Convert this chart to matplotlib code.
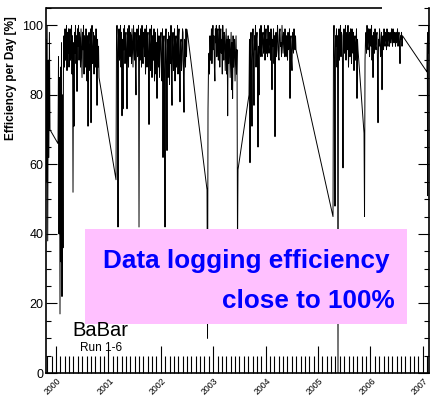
import numpy as np
import matplotlib
matplotlib.use("Agg")
import matplotlib.pyplot as plt
from matplotlib.ticker import MultipleLocator
from matplotlib.patches import Rectangle
import matplotlib.transforms as mtransforms

plt.rcParams['font.family'] = ['Liberation Sans', 'DejaVu Sans']

# ---- data: daily logging efficiency [%], sampled per run (decimal years) ----
years = [2000, 2001, 2002, 2003, 2004, 2005, 2006, 2007]

run_spans = [
    (1999.809, 1999.885),   # Run 1 (late 1999)
    (2000.038, 2000.821),   # Run 1 (2000)
    (2001.145, 2002.500),   # Run 2
    (2002.882, 2003.473),   # Run 3
    (2003.683, 2004.580),   # Run 4
    (2005.286, 2005.763),   # Run 5a
    (2005.878, 2006.622),   # Run 5b
    (2007.080, 2007.115),   # Run 6
]

run1a = [96, 55, 100, 38, 90, 62, 98, 70]

run1b = [66, 91, 40, 85, 17, 88, 32, 95, 22, 80, 36, 92, 97, 88, 99, 90,
         94, 100, 87, 98, 92, 99, 88, 96, 99, 90, 93, 100, 86, 97, 52, 95,
         71, 98, 92, 100, 89, 97, 81, 99, 94, 100, 90, 98, 96, 88, 99, 92,
         85, 98, 93, 100, 86, 97, 95, 88, 99, 90, 84, 97, 71, 95, 98, 87,
         93, 99, 72, 96, 100, 89, 90, 98, 86, 97, 94, 88, 99, 91, 77, 96,
         88, 94, 85]

run2 = [55.6, 97, 100, 92, 42, 96, 99, 90, 94, 100, 88, 98, 74, 96, 76, 99,
        93, 100, 89, 97, 98, 92, 76, 99, 95, 88, 100, 94, 91, 98, 97, 89,
        99, 93, 88, 100, 95, 90, 98, 87, 80, 96, 99, 91, 93, 100, 42, 97,
        90, 99, 96, 88, 100, 93, 89, 98, 97, 91, 99, 86, 94, 100, 88, 97,
        98, 92, 71.5, 96, 99, 87, 92, 100, 85, 97, 96, 90, 99, 84, 91, 98,
        86, 95, 79, 99, 94, 88, 97, 85, 90, 96, 98, 87, 84, 99, 62, 95,
        97, 86, 42, 94, 99, 88, 64, 96, 85, 98, 92, 83, 97, 89, 100, 86,
        77, 95, 98, 87, 91, 99, 84, 96, 97, 88, 93, 100, 86, 97, 99, 90,
        78, 95, 96, 87, 90, 99, 98, 85, 75, 96, 94, 88, 99, 91, 98.8]

run3 = [52.7, 10, 75.8, 88, 92, 86, 97, 90, 94, 99, 89, 96, 100, 93, 97, 88,
        84, 99, 95, 100, 91, 98, 99, 90, 94, 100, 88, 97, 99, 92, 96, 86,
        100, 94, 90, 98, 97, 87, 93, 99, 86, 96, 74, 97, 89, 94, 96, 85,
        91, 98, 81.5, 95, 79, 97, 88, 94, 96, 84, 90, 97, 86, 93, 35, 58.5]

run4 = [80, 96, 60.5, 92, 98, 88, 71, 95, 99, 90, 77, 97, 93, 100, 88, 96,
        98, 91, 65, 94, 80, 99, 95, 91, 100, 93, 91, 97, 98, 92, 94, 100,
        90, 96, 99, 92, 96, 91, 100, 94, 92, 98, 97, 90, 99, 93, 81.5, 96,
        94, 99, 89, 97, 68, 95, 98, 91, 93, 100, 97, 91, 90, 98, 99, 94,
        95, 91, 100, 96, 92, 98, 97, 91, 99, 94, 91, 97, 96, 90, 98, 93,
        94, 99, 79, 96, 97, 90, 87, 98, 95, 92, 99, 94, 93, 97, 93]

run5a = [45, 96, 100, 90, 48, 97, 94, 99, 88, 97, 0, 93, 99, 90, 96, 100,
         91, 98, 97, 89, 59, 95, 99, 92, 94, 100, 90, 97, 98, 93, 100, 88,
         95, 98, 91, 99, 97, 89, 99, 94, 92, 98, 87, 96, 97, 90, 94, 99,
         79, 96, 93]

run5b = [69, 45, 90, 96, 98, 92, 100, 94, 93, 99, 97, 91, 99, 95, 94, 100,
         90, 97, 85, 98, 96, 92, 99, 94, 93, 97, 98, 89, 72, 96, 94, 99,
         97, 91, 92, 98, 81.5, 95, 97, 93, 99, 95, 94, 98, 97, 93, 99, 95,
         94, 98, 97, 94, 98, 95, 95, 99, 97, 94, 99, 96, 95, 98, 97, 94,
         98, 95, 96, 99, 94, 97, 98, 95, 89, 97, 96, 98, 94, 97, 96.8]

run6 = [86.6, 95, 51, 98, 92, 100, 96]

run_values = [run1a, run1b, run2, run3, run4, run5a, run5b, run6]

# ---- figure ----
fig = plt.figure(figsize=(4.31, 3.96), dpi=100)
ax = fig.add_axes([46 / 431, 1 - 373 / 396, 383 / 431, 365 / 396])

xs, ys = [], []
for (a, b), v in zip(run_spans, run_values):
    xs.append(np.linspace(a, b, len(v)))
    ys.append(np.asarray(v, dtype=float))
x = np.concatenate(xs)
y = np.concatenate(ys)
ax.plot(x, y, color='black', lw=0.7, zorder=2)

ax.set_xlim(1999.809, 2007.118)
ax.set_ylim(0, 105)

# spines
for s in ['left', 'right', 'bottom']:
    ax.spines[s].set_linewidth(1.2)
ax.spines['top'].set_visible(False)
ax.plot([0, 0.877], [1, 1], transform=ax.transAxes, color='black',
        lw=1.2, clip_on=False, solid_capstyle='butt')

# ticks
ax.set_xticks(years)
ax.set_xticklabels([str(v) for v in years], rotation=45, fontsize=6.3,
                   ha='center', va='top')
ax.xaxis.set_minor_locator(MultipleLocator(1 / 12))
ax.tick_params(axis='x', which='major', direction='in', length=19.4,
               width=0.8, pad=2.5, top=False)
ax.tick_params(axis='x', which='minor', direction='in', length=12.2,
               width=0.8, top=False)
offset = mtransforms.ScaledTranslation(-3 / 100, 0, fig.dpi_scale_trans)
for lab in ax.get_xticklabels():
    lab.set_transform(lab.get_transform() + offset)

ax.set_yticks([0, 20, 40, 60, 80, 100])
ax.yaxis.set_minor_locator(MultipleLocator(5))
ax.tick_params(axis='y', which='major', direction='in', length=8, width=0.8,
               left=True, right=True, labelsize=9, pad=2)
ax.tick_params(axis='y', which='minor', direction='in', length=3.6,
               width=0.8, left=True, right=True)

# y label
fig.text(11 / 431, 1 - 78 / 396, 'Efficiency per Day [%]', rotation=90,
         ha='center', va='center', fontsize=8.5, fontweight='bold')

# pink annotation box
ax.add_patch(Rectangle((0.1018, 0.1342), 0.8408, 0.2603,
                       transform=ax.transAxes, facecolor='#ffc0ff',
                       edgecolor='none', zorder=5))
fig.text(103 / 431, 1 - 268 / 396, 'Data logging efficiency', ha='left',
         va='baseline', fontsize=18.8, fontweight='bold', color='#0000ff')
fig.text(395 / 431, 1 - 308 / 396, 'close to 100%', ha='right',
         va='baseline', fontsize=18.8, fontweight='bold', color='#0000ff')

# BaBar label
fig.text(100 / 431, 1 - 336 / 396, 'BaBar', ha='center', va='baseline',
         fontsize=14.5)
fig.text(101 / 431, 1 - 351 / 396, 'Run 1-6', ha='center', va='baseline',
         fontsize=8.5)

fig.savefig('out.png', dpi=100)
